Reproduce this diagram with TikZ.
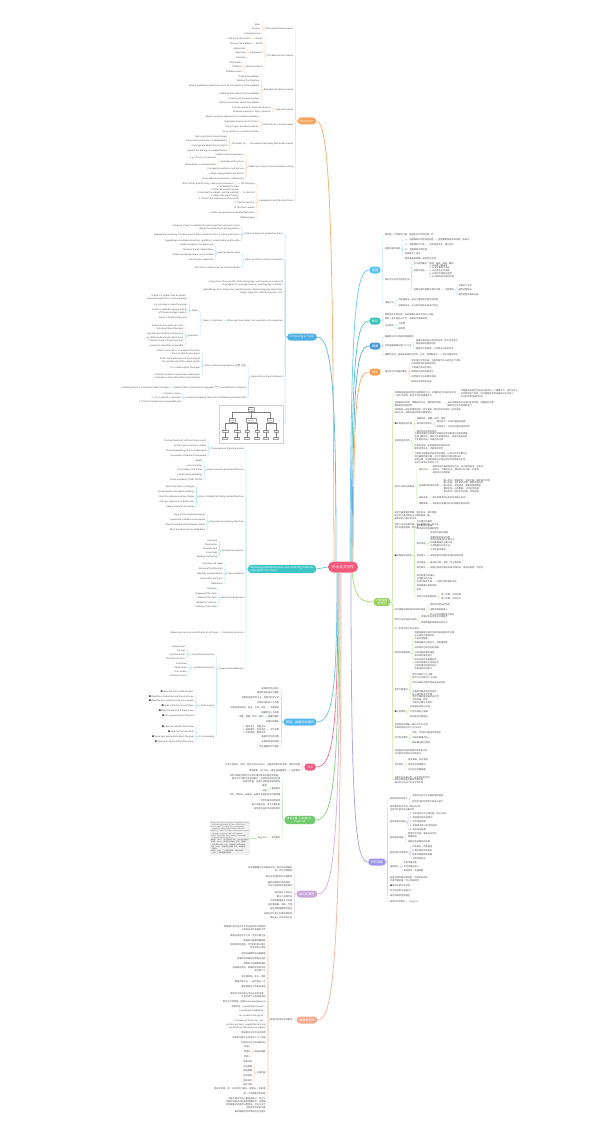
\documentclass[tikz,border=0pt]{standalone}
\usepackage{fontspec}
\setmainfont{Noto Sans CJK SC}
\usetikzlibrary{calc}

\definecolor{cRoot}{HTML}{F2597A}
\definecolor{cOr}{HTML}{F5A35C}
\definecolor{cBl}{HTML}{4DAEE3}
\definecolor{cTe}{HTML}{3EC6C6}
\definecolor{cBlb}{HTML}{55B8F0}
\definecolor{cPk}{HTML}{F2587E}
\definecolor{cGr}{HTML}{72C96E}
\definecolor{cPu}{HTML}{C9A6D9}
\definecolor{cSa}{HTML}{F4A98F}
\definecolor{cLb}{HTML}{5BC2F5}
\definecolor{cTeb}{HTML}{35C2B6}
\definecolor{cBlc}{HTML}{4A9AD6}
\definecolor{cOrb}{HTML}{F5A04E}
\definecolor{cGrb}{HTML}{9BD262}
\definecolor{cPub}{HTML}{9C95E8}
\definecolor{leafgray}{HTML}{505050}

\newcommand\leaffont{\fontsize{2.2}{2.85}\selectfont}
\newcommand\topicfont{\fontsize{3.1}{3.6}\selectfont}
\newcommand\chartfont{\fontsize{1.2}{1.45}\selectfont}

% children to the left / to the right of a parent
\newcommand\lkids[3]{%
  \foreach \yy/\lbl [count=\i] in {#3}{%
    \node[leaf, anchor=east, align=right] (#1-\i) at ($(#1.west |- 0,\yy)+(-3.5,0)$) {\lbl};
    \draw[br, #2] (#1.west) -- ++(-1.8,0) |- (#1-\i.east);
  }}
\newcommand\rkids[3]{%
  \foreach \yy/\lbl [count=\i] in {#3}{%
    \node[leaf, anchor=west, align=left] (#1-\i) at ($(#1.east |- 0,\yy)+(3.5,0)$) {\lbl};
    \draw[br, #2] (#1.east) -- ++(1.8,0) |- (#1-\i.west);
  }}

\tikzset{
  root/.style={fill=cRoot, text=white, rounded corners=5.5, minimum width=30, minimum height=11, inner sep=1, font=\fontsize{3.6}{4.2}\selectfont},
  topic/.style={text=white, rounded corners=3.5, minimum height=7, inner xsep=2.6, inner ysep=1.3, font=\topicfont, align=center},
  leaf/.style={text=leafgray, font=\leaffont, inner sep=0.4},
  br/.style={line width=0.3pt, rounded corners=1.2},
  mainline/.style={line width=0.8pt},
  chartbox/.style={draw=gray!70, fill=white, font=\chartfont, inner sep=0.4, align=center, line width=0.2pt}
}

\begin{document}
\begin{tikzpicture}[x=1pt, y=-1pt]
\fill[white] (0,0) rectangle (600,1137);
\useasboundingbox (0,0) rectangle (600,1137);

% centre and main topics
\node[root] (root) at (343,567) {毕业论文写作};
\node[topic, fill=cOr] (res) at (307,121) {Research};
\node[topic, fill=cBl] (top) at (302,337) {Choosing a Topic};
\node[topic, fill=cTe, align=left, font=\fontsize{2.6}{3}\selectfont] (rev) at (282,569) {Reviewing related literature and collecting materials\\required for the thesis};
\node[topic, fill=cBlb] (abs) at (300,722) {提纲、摘要和关键词};
\node[topic, fill=cPk] (intro) at (310,767) {引言};
\node[topic, fill=cGr, font=\fontsize{2.6}{3}\selectfont] (refs) at (300,820) {参考文献（APA格式）\\Page 152};
\node[topic, fill=cPu] (concl) at (307,894) {结论的撰写};
\node[topic, fill=cSa] (ack) at (307,1020) {致谢和附录};
\node[topic, fill=cLb] (xt) at (375,270) {选题};
\node[topic, fill=cTeb] (tm) at (375,321) {题目};
\node[topic, fill=cBlc] (zy) at (375,346) {摘要};
\node[topic, fill=cOrb] (xl) at (375,372) {绪论};
\node[topic, fill=cGrb, font=\fontsize{2.8}{3.3}\selectfont] (open) at (382,602) {开题报告\\的写作};
\node[topic, fill=cPub] (dfn) at (377,862) {答辩准备};

\draw[mainline, cOr!80] (334,562) .. controls (333,250) and (331,121) .. (res.east);
\draw[mainline, cBl!80] (336,562) .. controls (336,400) and (333,337) .. (top.east);
\draw[mainline, cTe!80] (root.west) -- (rev.east);
\draw[mainline, cBlb!80] (337,572) .. controls (337,690) and (333,722) .. (abs.east);
\draw[mainline, cPk!80] (338,572) .. controls (338,735) and (333,767) .. (intro.east);
\draw[mainline, cGr!80] (339,572) .. controls (339,785) and (333,820) .. (refs.east);
\draw[mainline, cPu!80] (340,572) .. controls (340,855) and (333,894) .. (concl.east);
\draw[mainline, cSa!80] (341,572) .. controls (341,970) and (333,1020) .. (ack.east);
\draw[mainline, cLb!80] (350,562) .. controls (351,320) and (355,270) .. (xt.west);
\draw[mainline, cTeb!80] (351,562) .. controls (352,360) and (355,321) .. (tm.west);
\draw[mainline, cBlc!80] (352,562) .. controls (353,380) and (356,346) .. (zy.west);
\draw[mainline, cOrb!80] (353,562) .. controls (354,400) and (356,372) .. (xl.west);
\draw[mainline, cGrb!80] (352,572) .. controls (355,598) and (360,602) .. (open.west);
\draw[mainline, cPub!80] (351,572) .. controls (351,820) and (356,862) .. (dfn.west);

% Research
\lkids{res}{cOr!45}{29/Three words about research, 56/The definition of research, 90/Procedure for doing research, 110/Types of research, 125/Definition of a research paper, 144/{The second step: being able to do research}, 167/{Objectives in basic, formal academic writing}, 201/Components of graduation thesis}
\lkids{res-1}{cOr!45}{25/Ideas, 29/Analysis, 34/Comprehensive}
\lkids{res-2}{cOr!45}{39/Nature, 44/Result, 53/Component, 67/Role of research}
\lkids{res-2-1}{cOr!45}{39/Gathering information}
\lkids{res-2-2}{cOr!45}{44/Forming the problem}
\lkids{res-2-3}{cOr!45}{49/Information, 53/Operation, 58/Selection}
\lkids{res-2-4}{cOr!45}{63/Information, 67/Platform, 72/Problem solver}
\lkids{res-3}{cOr!45}{77/Finding the problem, 81/Reading the literature, 86/Making hypotheses about the causes of and solutions to the problem, 94/Collecting data relevant to the problem, 99/Analyzing and explaining data, 103/Making conclusions about the problem}
\lkids{res-4}{cOr!45}{108/{Primary research / Empirical research}, 112/{Secondary research / library research}}
\lkids{res-5}{cOr!45}{117/Apply an original approach to an academic problem, 122/Organized around a central thesis, 127/Using insights based on research, 132/Citing sources in a scholarly fashion}
\lkids{res-6}{cOr!45}{144/The ability to}
\lkids{res-6-1}{cOr!45}{137/find a significant research topic, 141/do research and analysis independently, 146/use language objectively in English, 151/present the findings in a proper format}
\lkids{res-7}{cOr!45}{155/Avoid first-person pronouns, 162/Avoid concluding lines, 169/Use special vocabulary and phrases, 174/Adopt a recognized layout format, 179/Use academic conventions in referencing}
\lkids{res-7-2}{cOr!45}{158/{e.g. I think, in my opinion}, 165/No emotions in personal ideas}
\lkids{res-8}{cOr!45}{184/a. The title page, 193/b. Abstract, 203/c. Table of contents, 208/d. The thesis proper, 213/{e. Notes (or quotations and notes/footnotes)}, 218/f. Bibliography}
\lkids{res-8-1}{cOr!45}{184/{(title, author, date of study, submission statement)}}
\lkids{res-8-2}{cOr!45}{193/{1. Introduce the topic\\2. State the research design\\3. Describe the subjects and the methods\\4. Report the main findings\\5. Present the implications of the study}}

% Choosing a Topic
\lkids{top}{cBl!45}{234/Criteria of topics for graduation thesis, 260/{Topic, question and thesis statement}, 283/{Linguistics is the scientific study of language, and involves an analysis of\\language form, language meaning, and language in context.}, 291/{Applied linguistics, Pragmatics, Sociolinguistics, Second language acquisition,\\Corpus linguistics, Discourse analysis, etc.}, 321/{When you have a topic, turn your focus into a question}, 377/Formulating a thesis statement}
\lkids{top-1}{cBl!45}{227/{Choosing a topic is probably the most important and most crucial\\step of the whole thesis-writing process}, 235/{Appropriate narrowing and focusing of a topic usually results in a high quality thesis}, 241/{A good topic should be interesting, significant, researchable, and feasible}}
\lkids{top-2}{cBl!45}{253/How to choose a topic, 268/Start with a subject area you are interested in}
\lkids{top-2-1}{cBl!45}{245/Choose a topic that interests you, 250/Narrow a broad subject down, 255/Make sure enough sources are available, 260/Consult your supervisor}
\lkids{top-5}{cBl!45}{321/Topic vs. Questions}
\lkids{top-5-1}{cBl!45}{311/Topics, 336/Questions}
\lkids{top-5-1-1}{cBl!45}{297/{A topic is a subject area of interest,\\a focused aspect that is narrow enough}, 305/e.g. Learning a second language, 311/{Errors in second language writing\\of Chinese college students}, 318/A topic is broad and general}
\lkids{top-5-1-2}{cBl!45}{327/{A question asks what you want\\to find out about the topic}, 334/It guides your reading and research, 339/{e.g. What kinds of errors do Chinese\\students make in English writing?}, 346/A question should be answerable}
\lkids{top-6}{cBl!45}{366/{Thesis statement perspective (主题, 主旨)}, 388/{Working thesis statement (changeable) $\sim$ Finished thesis statement}, 398/A successful working thesis has the following characteristics}
\lkids{top-6-1}{cBl!45}{352/{A thesis statement is a sentence that states\\the main idea of your paper}, 360/{It tells the reader how you will interpret\\the significance of the subject matter}, 368/It is a road map for the paper, 376/{It directly answers the question asked of you\\and makes a claim that others might dispute}}
\lkids{top-6-2}{cBl!45}{388/A working thesis is a statement about the topic}
\lkids{top-6-3}{cBl!45}{394/1. It makes a claim, 398/2. It is as specific as possible, 402/3. It limits the topic to a manageable size}

% chart of the field
\node[draw=gray!35, fill=white, minimum width=64, minimum height=38, inner sep=0, line width=0.2pt] (chart) at (251,424) {};
\draw[br, cBl!45] (top.west) -- ++(-1.8,0) |- (chart.east);
\node[chartbox] (ch0) at (251,409) {Applied\\Linguistics};
\node[chartbox] (ch1) at (232,420) {Language\\Teaching};
\node[chartbox] (ch2) at (251,420) {Second Language\\Acquisition};
\node[chartbox] (ch3) at (270,420) {Language\\Testing};
\foreach \xx/\lb [count=\j] in {225/Syllabus, 237/Methods, 247/Input, 257/Output, 266/Validity, 276/Rating}{
  \node[chartbox] (cr\j) at (\xx,431) {\lb};
  \node[chartbox] (cs\j) at (\xx,438) {Studies};
  \draw[gray, line width=0.2pt] (cr\j) -- (cs\j);
}
\foreach \a/\b in {ch0/ch1, ch0/ch2, ch0/ch3, ch1/cr1, ch1/cr2, ch2/cr3, ch2/cr4, ch3/cr5, ch3/cr6}{
  \draw[gray, line width=0.2pt] (\a.south) -- ++(0,1.5) -| (\b.north);
}

% Reviewing related literature
\lkids{rev}{cTe!45}{449/The purpose of literature review, 470/Major resources of related literature, 497/Basic strategies for finding related literature, 522/Major tips on reviewing literature, 551/Qualitative resources, 574/Thesis proposal, 598/Abstract and keyword, 633/Evaluating materials, 669/Types of methodologies}
\lkids{rev-1}{cTe!45}{441/To show familiarity with existing research, 446/To find a gap in previous studies, 451/To avoid repeating what has been done, 456/To provide a theoretical framework}
\lkids{rev-2}{cTe!45}{461/Books, 466/Journal articles, 470/Dissertations and theses, 475/Conference proceedings, 480/{Online databases (CNKI, JSTOR)}}
\lkids{rev-3}{cTe!45}{487/Search the library catalogue, 492/Use keywords and subject headings, 497/Check the references of key studies, 502/Ask your supervisor and librarians, 507/Keep a record of all sources}
\lkids{rev-4}{cTe!45}{515/Organize the review by themes, 520/{Summarize, compare and evaluate}, 525/Show the relationship between studies, 530/Point out what remains to be done}
\lkids{rev-5}{cTe!45}{541/Interview, 545/Observation, 549/Questionnaire, 553/Case study, 557/Reading and testing}
\lkids{rev-6}{cTe!45}{564/The topic and scope, 569/Review of the literature, 574/Methods and procedures, 579/Timeline for the thesis, 584/References}
\lkids{rev-7}{cTe!45}{589/The topic, 594/Purpose of the study, 598/Scope of the study, 603/Methods of research, 607/Findings of the study}
\lkids{rev-8}{cTe!45}{633/{Relevance, currency and authority at all stages}}
\lkids{rev-9}{cTe!45}{655/1. Quantitative research, 668/2. Qualitative research, 706/3. Skim reading, 737/4. Scan reading}
\lkids{rev-9-1}{cTe!45}{647/Experiments, 651/Surveys, 655/Questionnaires, 659/Statistical analysis}
\lkids{rev-9-2}{cTe!45}{664/Interviews, 668/Observation, 672/Case studies, 676/Content analysis}
\lkids{rev-9-3}{cTe!45}{692/■ Read the titles of the chapters, 697/■ Read the introduction and the conclusion, 701/■ Read the first sentence of each paragraph, 706/■ Look at the charts and tables, 711/■ Read the abstract if there is one, 716/■ Get a general idea of the text}
\lkids{rev-9-4}{cTe!45}{727/■ Look for specific information, 732/■ Look for the key words, 737/■ Move your eyes quickly down the page, 742/■ Stop when you find the information}

% 提纲、摘要和关键词
\lkids{abs}{cBlb!45}{689/提纲的作用与意义, 693/提纲的基本格式与要求, 698/常用的提纲写作方法：标题式和句子式, 703/文献综述的含义与作用, 708/文献综述, 713/摘要的定义与类型, 717/摘要的要求, 722/关键词的概念, 730/写作步骤, 737/摘要中常见的问题, 742/关键词的选取原则, 747/英文摘要的写作要求}
\lkids{abs-5}{cBlb!45}{708/文献综述的结构：前言、主体、总结}
\lkids{abs-7}{cBlb!45}{717/完整、准确、简洁、客观}
\lkids{abs-9}{cBlb!45}{730/{1. 通读全文，把握主旨\\2. 提取要点，组织语言\\3. 反复修改，精简文字}}

% 引言
\lkids{intro}{cPk!45}{765/引言又称前言、绪论，是论文的开头部分，主要说明研究的背景、目的和范围, 771/注意事项}
\lkids{intro-2}{cPk!45}{771/简明扼要，开门见山，避免与摘要雷同}

% 参考文献
\lkids{refs}{cGr!45}{779/{参考文献是为撰写论文而引用的有关文献信息资源，\\是论文不可缺少的组成部分，反映作者的科学态度\\和研究依据，也便于读者查阅原始资料}, 789/著录格式, 795/书名、期刊名、出版地、出版社及出版年份均需完整, 801/参考文献的排列顺序, 805/英文文献在前，中文文献在后, 809/按作者姓氏的字母顺序排列, 838/参考格式}
\lkids{refs-2}{cGr!45}{786/著者, 791/出版}
\lkids{refs-7}{cGr!45}{838/Page 152}
\node[leaf, fill=gray!12, anchor=east, align=left, font=\fontsize{1.6}{2.2}\selectfont] (apa) at (250,838) {Brown, H. D. (2007). Principles of language learning\\\quad and teaching. New York: Pearson Education.\\Ellis, R. (1994). The study of second language\\\quad acquisition. Oxford: Oxford University Press.\\Krashen, S. (1982). Principles and practice in second\\\quad language acquisition. Oxford: Pergamon.\\Swales, J. M. (1990). Genre analysis. Cambridge:\\\quad Cambridge University Press.\\胡壮麟.（2001）. 语言学教程. 北京：北京大学出版社.\\文秋芳.（2004）. 英语学习者动机、观念、策略的\\\quad 变化规律与特点. 北京：外语教学与研究出版社.\\王蔷.（2006）. 英语教学法教程. 北京：高等教育\\\quad 出版社.\\束定芳.（2004）. 外语教学改革：问题与对策.\\\quad 上海：上海外语教育出版社.};
\draw[br, cGr!45] (refs-7-1.west) -- (apa.east);

% 结论
\lkids{concl}{cPu!45}{869/{结论是整篇论文的最后总结，是对研究结果的\\进一步认识和提炼}, 877/结论应包括研究的主要发现, 884/{概括说明研究的局限性，\\并对今后的研究提出建议}, 893/结论部分不宜过长, 897/要与引言相呼应, 901/不能简单重复正文内容, 905/语言要准确、简练、严谨, 909/避免使用模糊性的语言, 914/对研究的不足之处要实事求是, 918/提出进一步研究的方向}

% 致谢和附录
\lkids{ack}{cSa!45}{1020/致谢与附录的写作要求}
\lkids{ack-1}{cSa!45}{928/{致谢是作者对在论文写作过程中给予帮助的\\人和单位表示感谢的文字}, 936/致谢应放在正文之后、参考文献之前, 941/致谢的对象要明确具体, 946/{感谢导师在选题、写作和修改过程中\\给予的悉心指导}, 954/感谢任课教师的辛勤教诲, 959/感谢同学和朋友的帮助与支持, 964/感谢家人的理解和鼓励, 969/{感谢提供资料、数据和实验条件的\\单位和个人}, 977/语言要真诚、朴实、得体, 982/篇幅不宜过长，一般不超过一页, 987/避免使用过于夸张的语言, 995/{致谢中不应出现与论文无关的内容，\\不宜写成个人感想或总结}, 1002/英文论文的致谢一般用 Acknowledgements, 1007/{常用句型：I would like to thank ...}, 1011/{I am deeply indebted to ...}, 1016/{My sincere thanks go to ...}, 1021/{I also owe my thanks to ... for ...}, 1026/{Last but not least, I would like to thank\\my family for their love and support}, 1033/附录是对正文的补充说明, 1038/附录的内容可以包括以下几个方面, 1043/附录应与正文连续编页码, 1052/附录的编排, 1073/主要内容, 1089/附录中的图、表、公式应另行编号，如图A1、表B2等, 1094/每一个附录都应有标题, 1103/{附录不是论文的必要组成部分，但对于\\完整反映研究过程具有重要作用，应根据\\实际需要决定是否设置附录，并在正文中\\注明参见附录的位置}, 1112/最终稿需经导师审阅后方可提交}
\lkids{ack-1-22}{cSa!45}{1047/附录A, 1052/附录B, 1057/附录C}
\lkids{ack-1-23}{cSa!45}{1062/调查问卷, 1067/访谈提纲, 1071/原始数据, 1076/测试试卷, 1081/图表资料, 1085/程序代码}

% 选题
\rkids{xt}{cLb!45}{235/研究是一个系统的过程，选题是论文写作的第一步, 249/选题的基本原则, 280/研究生毕业论文选题方法, 303/选题方法}
\rkids{xt-2}{cLb!45}{240/一、选题要有科学性和创新性, 245/二、选题要有可行性, 250/三、选题要有实用价值, 254/选题要大小适中, 259/题目要具体明确，避免宽泛空洞}
\rkids{xt-2-1}{cLb!45}{240/选题要能够提出新问题、新观点}
\rkids{xt-2-2}{cLb!45}{245/结合自身条件，量力而行}
\rkids{xt-3}{cLb!45}{264/论文题目要求：简明、具体、新颖、醒目, 271/选题的途径, 290/选题过程中需要注意的问题}
\rkids{xt-3-2}{cLb!45}{271/{1. 从自身兴趣出发\\2. 从专业课程中寻找\\3. 从社会热点中选题\\4. 从导师的课题中选题\\5. 从文献阅读中发现问题}}
\rkids{xt-3-3}{cLb!45}{290/注意事项}
\rkids{xt-3-3-1}{cLb!45}{286/不要贪大求全, 290/避免选题陈旧, 295/避免选题过难或过易}
\rkids{xt-4}{cLb!45}{300/浏览捕捉法：通过大量阅读文献寻找选题, 306/追溯验证法：从已有的想法出发进行验证}

% 题目
\rkids{tm}{cTeb!45}{315/题目是论文的总纲，应能准确反映论文的核心内容, 319/题目一般不超过20个字，必要时可加副标题, 326/论文题目}
\rkids{tm-3}{cTeb!45}{324/主标题, 329/副标题}

% 摘要
\rkids{zy}{cBlc!45}{337/摘要是对论文内容的简短陈述, 346/写好摘要需要注意以下几点, 355/摘要的写法：直接陈述研究的目的、方法、结果和结论}
\rkids{zy-2}{cBlc!45}{342/{摘要应具有独立性和自含性，即不阅读全文\\就能获得必要的信息}, 349/摘要中不用图表、公式和非公知的符号}
\rkids{zy-3}{cBlc!45}{355/不加注释和评论}

% 绪论
\rkids{xl}{cOrb!45}{372/绪论的写作内容和要求}
\rkids{xl-1}{cOrb!45}{362/{绪论是论文的开端，主要回答为什么研究这个问题，\\应说明研究的背景和动机}, 368/介绍国内外研究现状, 372/阐明研究的目的和意义, 377/说明研究方法和理论依据, 382/概述论文的结构安排}

% 开题报告
\rkids{open}{cGrb!50}{394/{开题报告是指研究者在选题确定之后，对课题进行论证和设计的\\一种文字说明，是论文写作的重要环节}, 404/{开题报告的作用：明确研究方向，理清研究思路，\\避免研究的盲目性}, 411/{开题报告一般包括课题名称、研究背景、国内外研究现状、研究内容、\\研究方法、进度安排和参考文献等部分}, 424/●开题报告的内容, 441/文献综述的写作, 487/研究方法和技术路线, 516/{研究内容要具体明确，重点突出，难点清楚，\\研究的主要问题应当与题目保持一致，\\避免研究内容过多过杂}, 526/{创新之处应实事求是，可以是新材料、新方法，\\也可以是新视角、新观点}, 556/●开题报告的撰写, 610/研究课题的基本情况和研究背景, 620/研究方法的选择与说明, 629/下一步研究的计划与安排, 653/研究的预期结果, 690/参考文献要求, 712/●注意事项, 726/{开题报告的篇幅一般在3000字左右，\\文献综述部分不少于1500字}, 738/论文格式要求, 752/{开题报告须经指导教师审阅签字后\\方可提交学院进行开题论证}, 765/写作规范, 780/{开题论证未通过者，应在规定时间内\\修改开题报告并重新申请开题，\\通过后方可进入论文写作阶段}}
\rkids{open-1}{cGrb!50}{394/{开题报告是研究生培养过程中的一个重要环节，由学生本人\\在导师指导下完成，经开题报告会审议通过后方可进入\\论文的实质性研究阶段}}
\rkids{open-2}{cGrb!50}{404/{通过开题报告可以及时发现问题，调整研究方案，\\确保论文写作的顺利进行}}
\rkids{open-4}{cGrb!50}{419/课题名称：准确、规范、简洁, 424/研究目的和意义, 432/国内外研究现状述评}
\rkids{open-4-2}{cGrb!50}{422/理论意义：对学科发展的贡献, 427/实践意义：对实际问题的指导作用}
\rkids{open-5}{cGrb!50}{437/{文献综述要求对所研究领域的已有成果进行全面的梳理，\\包括主要观点、研究方法和研究结论，指出已有研究的\\不足和有待进一步研究的问题}, 447/{综述时应按一定的逻辑顺序组织材料，\\做到述评结合，不能简单罗列}, 458/{引用的文献要有代表性和权威性，以近五年的文献为主，\\同时兼顾经典文献；对所引用的观点要注明出处，\\避免抄袭；综述的结尾应总结已有研究的成果与不足，\\由此引出本研究的切入点}}
\rkids{open-6}{cGrb!50}{470/研究方法, 486/技术路线和研究步骤, 498/研究进度, 504/预期成果}
\rkids{open-6-1}{cGrb!50}{470/{说明本研究采用的研究方法，如问卷调查法、访谈法、\\实验法、个案研究法、语料库分析法等，并说明\\选择该方法的理由}}
\rkids{open-6-2}{cGrb!50}{486/{第一阶段：收集资料，阅读文献，确定研究问题\\第二阶段：设计研究方案，编制调查问卷\\第三阶段：实施调查，收集和整理数据\\第四阶段：分析数据，讨论研究结果\\第五阶段：撰写论文初稿，修改定稿}}
\rkids{open-6-3}{cGrb!50}{498/按时间顺序列出各阶段的起止时间}
\rkids{open-6-4}{cGrb!50}{504/说明研究成果的形式和预期达到的目标}
\rkids{open-9}{cGrb!50}{522/论文题目的确定, 527/{研究的理论基础，\\即本研究所依据的理论}, 544/研究内容, 556/研究意义, 563/样本选择, 568/研究假设, 577/{研究的重点和难点，\\以及解决的办法}, 582/参考文献的引用, 586/其他需要注意的问题, 590/附录, 597/研究计划和进度安排}
\rkids{open-9-3}{cGrb!50}{533/研究的对象和范围, 538/需要回答的研究问题, 543/{研究中拟采用的主要方法\\和收集数据的主要工具\\以及数据分析的方法}, 550/论文的基本框架}
\rkids{open-9-4}{cGrb!50}{556/说明本研究的理论价值和实践价值}
\rkids{open-9-5}{cGrb!50}{563/被试的人数、年龄、学习背景等}
\rkids{open-9-6}{cGrb!50}{568/根据已有研究提出本研究的假设，假设应具体、可检验}
\rkids{open-9-8}{cGrb!50}{582/注明引用文献的出处}
\rkids{open-9-11}{cGrb!50}{595/第一学期：完成开题, 599/第二学期：完成论文}
\rkids{open-10}{cGrb!50}{605/研究的问题从何而来, 610/选题的理由和意义, 615/前人对该问题的研究情况}
\rkids{open-11}{cGrb!50}{617/定量研究与定性研究相结合, 623/说明数据的收集和分析方法}
\rkids{open-13}{cGrb!50}{636/{预期结果是对研究可能得出的结论的设想，\\应与研究问题相对应，\\不能凭空臆断}, 643/预期结果可以是论文、调查报告等, 648/说明研究可能存在的困难, 654/{以及克服困难的措施，\\保证研究顺利进行}, 664/{研究结论应有数据支持，\\对研究结果的讨论应结合\\已有的理论和研究进行，\\并指出研究的意义}}
\rkids{open-14}{cGrb!50}{676/{参考文献不少于20篇，\\其中外文文献不少于10篇}, 683/所列文献必须是作者亲自阅读过的, 693/{文献应尽量选用近年来的\\核心期刊和学术专著}, 700/{参考文献的著录格式应符合\\学校的统一规定，\\中英文文献分别排列}}
\rkids{open-15}{cGrb!50}{707/开题报告应独立完成, 712/严禁抄袭他人成果, 717/按时提交开题报告}
\rkids{open-17}{cGrb!50}{733/字体、字号和行距按学院规定, 738/页眉页脚格式统一, 743/图表编号规范清晰}
\rkids{open-19}{cGrb!50}{760/用词准确，表达清楚, 765/标点符号使用规范, 770/引文标注完整准确}

% 答辩准备
\rkids{dfn}{cPub!50}{799/答辩的目的和意义, 808/{答辩是审查论文的一种补充形式，\\也是学位授予的必要环节}, 822/答辩的基本流程, 838/答辩前的准备, 853/答辩时的注意事项, 867/答辩技巧, 879/{回答问题时要实事求是，不知道的问题\\不要不懂装懂，可以坦诚说明}, 886/●答辩中常见的问题, 891/论文的创新之处是什么, 896/研究的局限性有哪些, 902/答辩PPT的制作}
\rkids{dfn-1}{cPub!50}{796/考查学生对论文内容的掌握程度, 802/检验学生的综合能力和表达能力}
\rkids{dfn-3}{cPub!50}{814/1. 学生陈述论文主要内容（约10分钟）, 818/2. 答辩委员会成员提问, 822/3. 学生回答问题, 826/4. 答辩委员会讨论评定成绩, 830/5. 宣布答辩结果}
\rkids{dfn-4}{cPub!50}{835/{熟悉论文内容，准备好论文的\\简要陈述}, 842/准备可能被提问的问题}
\rkids{dfn-5}{cPub!50}{847/仪表端庄，态度谦虚, 851/认真听取老师的提问, 855/回答问题要简明扼要, 859/注意控制时间}
\rkids{dfn-6}{cPub!50}{863/先思考再回答, 867/抓住问题的核心, 871/语速适中，条理清楚}
\rkids{dfn-11}{cPub!50}{902/Page 92}
\end{tikzpicture}
\end{document}
